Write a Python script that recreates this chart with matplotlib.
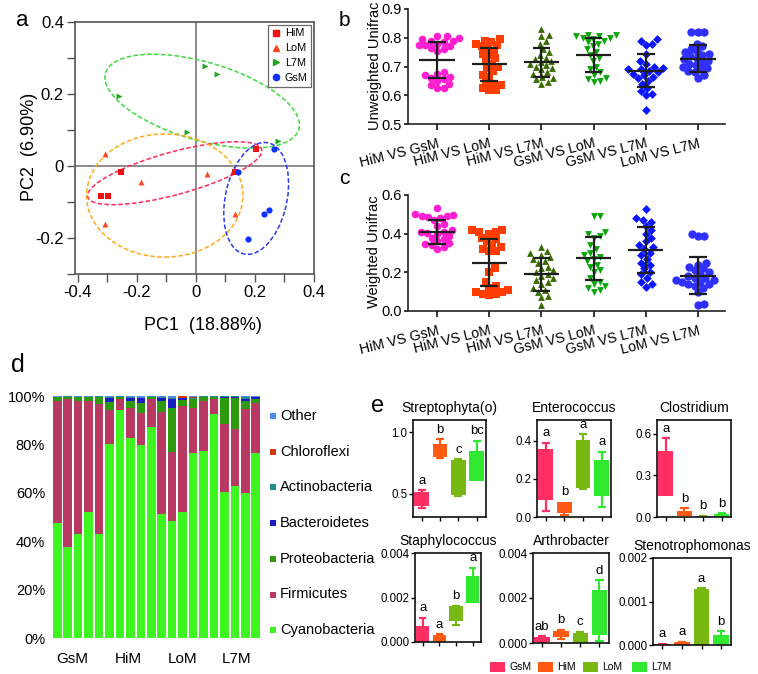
import numpy as np
import matplotlib
matplotlib.use('Agg')
import matplotlib.pyplot as plt
from matplotlib.patches import Ellipse, Rectangle
from matplotlib.lines import Line2D
from matplotlib.transforms import ScaledTranslation

plt.rcParams['font.family'] = ['Liberation Sans', 'DejaVu Sans']

# ---------------- data: panel a (PCoA) ----------------
a_him_x = [-0.322, -0.297, -0.253, 0.131, 0.203]
a_him_y = [-0.084, -0.084, -0.018, -0.017, 0.047]
a_lom_x = [-0.310, -0.186, 0.039, 0.131, -0.309]
a_lom_y = [0.034, -0.045, -0.021, -0.132, -0.161]
a_l7m_x = [-0.261, -0.031, 0.030, 0.072, 0.278]
a_l7m_y = [0.195, 0.094, 0.277, 0.256, 0.070]
a_gsm_x = [0.141, 0.263, 0.231, 0.247, 0.178]
a_gsm_y = [-0.017, 0.048, -0.133, -0.123, -0.203]
# ellipses: centre x, centre y, width, height, angle
ell_cx = [0.021, -0.072, -0.106, 0.204]
ell_cy = [0.180, -0.020, -0.082, -0.090]
ell_w = [0.674, 0.604, 0.530, 0.320]
ell_h = [0.220, 0.120, 0.342, 0.206]
ell_ang = [-12.7, 12.4, 0.0, 71.8]
ell_col = ['#3ddc3d', '#ff2a55', '#ffaa1a', '#2a3aee']

# ---------------- data: panels b, c ----------------
comparisons = ['HiM VS GsM', 'HiM VS LoM', 'HiM VS L7M', 'GsM VS LoM', 'GsM VS L7M', 'LoM VS L7M']
unw_him_gsm = [0.805, 0.805, 0.80, 0.795, 0.79, 0.79, 0.785, 0.78, 0.775, 0.775, 0.77, 0.765, 0.76,
               0.755, 0.68, 0.675, 0.67, 0.665, 0.66, 0.655, 0.65, 0.64, 0.635, 0.625, 0.625]
unw_him_lom = [0.795, 0.79, 0.785, 0.78, 0.775, 0.77, 0.765, 0.755, 0.745, 0.74, 0.73, 0.72, 0.71,
               0.70, 0.695, 0.685, 0.67, 0.665, 0.645, 0.64, 0.635, 0.625, 0.62, 0.62]
unw_him_l7m = [0.83, 0.81, 0.805, 0.79, 0.78, 0.76, 0.75, 0.74, 0.73, 0.725, 0.72, 0.715, 0.71,
               0.705, 0.70, 0.695, 0.69, 0.68, 0.675, 0.665, 0.66, 0.655, 0.645, 0.64]
unw_gsm_lom = [0.81, 0.81, 0.805, 0.805, 0.80, 0.80, 0.795, 0.79, 0.785, 0.78, 0.77, 0.76, 0.75,
               0.74, 0.73, 0.72, 0.70, 0.69, 0.68, 0.67, 0.66, 0.655, 0.65, 0.645]
unw_gsm_l7m = [0.795, 0.79, 0.78, 0.775, 0.745, 0.72, 0.71, 0.70, 0.695, 0.69, 0.69, 0.685, 0.68,
               0.675, 0.67, 0.665, 0.66, 0.65, 0.64, 0.625, 0.615, 0.605, 0.60, 0.55]
unw_lom_l7m = [0.82, 0.82, 0.82, 0.78, 0.77, 0.76, 0.755, 0.75, 0.745, 0.74, 0.735, 0.73, 0.725,
               0.72, 0.715, 0.71, 0.705, 0.70, 0.695, 0.69, 0.685, 0.68, 0.67, 0.66]
unw_mean = [0.722, 0.708, 0.714, 0.740, 0.686, 0.727]
unw_sd = [0.062, 0.057, 0.052, 0.058, 0.059, 0.047]

w_him_gsm = [0.535, 0.50, 0.495, 0.49, 0.49, 0.485, 0.48, 0.47, 0.45, 0.44, 0.42, 0.41, 0.41,
             0.405, 0.40, 0.39, 0.38, 0.37, 0.36, 0.35, 0.345, 0.34, 0.33, 0.32]
w_him_lom = [0.42, 0.42, 0.41, 0.41, 0.40, 0.38, 0.37, 0.36, 0.34, 0.33, 0.32, 0.31, 0.31,
             0.22, 0.20, 0.15, 0.13, 0.12, 0.11, 0.10, 0.10, 0.09, 0.09, 0.085]
w_him_l7m = [0.33, 0.31, 0.30, 0.29, 0.28, 0.27, 0.26, 0.25, 0.23, 0.22, 0.21, 0.20, 0.19,
             0.18, 0.17, 0.16, 0.15, 0.14, 0.12, 0.11, 0.10, 0.08, 0.07, 0.03]
w_gsm_lom = [0.49, 0.49, 0.41, 0.40, 0.39, 0.38, 0.34, 0.32, 0.30, 0.29, 0.28, 0.27, 0.26,
             0.24, 0.23, 0.21, 0.20, 0.17, 0.15, 0.14, 0.13, 0.12, 0.11, 0.10]
w_gsm_l7m = [0.53, 0.48, 0.47, 0.46, 0.44, 0.42, 0.40, 0.38, 0.36, 0.34, 0.33, 0.32, 0.30,
             0.29, 0.27, 0.25, 0.24, 0.22, 0.20, 0.19, 0.17, 0.15, 0.14, 0.125]
w_lom_l7m = [0.40, 0.39, 0.39, 0.25, 0.24, 0.23, 0.22, 0.21, 0.20, 0.19, 0.18, 0.17, 0.17,
             0.16, 0.16, 0.15, 0.15, 0.14, 0.14, 0.13, 0.12, 0.10, 0.035, 0.03]
w_mean = [0.410, 0.250, 0.190, 0.272, 0.314, 0.183]
w_sd = [0.061, 0.120, 0.086, 0.113, 0.119, 0.095]

# ---------------- data: panel d (relative abundance, %) ----------------
d_groups = ['GsM', 'HiM', 'LoM', 'L7M']
cyanobacteria = [47.7, 37.8, 42.9, 51.9, 43.1, 80.2, 94.2, 82.8, 79.9, 87.1,
                 51.2, 48.4, 52.0, 76.6, 77.4, 92.4, 60.2, 62.9, 59.8, 76.6]
firmicutes = [50.2, 61.0, 55.0, 46.0, 53.6, 14.0, 4.4, 12.4, 12.9, 11.5,
              42.3, 28.4, 44.0, 18.6, 20.7, 6.2, 28.1, 23.5, 34.7, 20.4]
proteobacteria = [1.5, 0.9, 1.5, 1.5, 3.0, 3.5, 1.1, 2.9, 4.4, 1.1,
                  4.3, 18.4, 2.3, 3.4, 1.6, 1.1, 10.7, 12.9, 3.6, 1.6]
bacteroidetes = [0.0, 0.0, 0.0, 0.0, 0.0, 1.3, 0.0, 1.2, 1.8, 0.0,
                 1.4, 3.6, 0.8, 0.3, 0.0, 0.0, 0.6, 0.2, 0.7, 0.9]
actinobacteria = [0.3, 0.1, 0.3, 0.3, 0.1, 0.4, 0.1, 0.3, 0.3, 0.1,
                  0.4, 0.3, 0.2, 0.3, 0.1, 0.1, 0.3, 0.4, 0.8, 0.2]
chloroflexi = [0.0, 0.0, 0.0, 0.0, 0.0, 0.0, 0.0, 0.0, 0.0, 0.0,
               0.0, 0.1, 0.5, 0.5, 0.0, 0.0, 0.0, 0.0, 0.0, 0.0]
other = [0.3, 0.2, 0.3, 0.3, 0.2, 0.6, 0.2, 0.4, 0.7, 0.2,
         0.4, 0.8, 0.2, 0.3, 0.2, 0.2, 0.1, 0.1, 0.4, 0.3]
d_tick_pos = [1.4, 6.8, 12.0, 17.2]

# ---------------- data: panel e (box: q1,q3; whiskers lo,hi) ----------------
e_taxa = ['Streptophyta(o)', 'Enterococcus', 'Clostridium',
          'Staphylococcus', 'Arthrobacter', 'Stenotrophomonas']
e_groups = ['GsM', 'HiM', 'LoM', 'L7M']
e_q1 = [[0.403, 0.797, 0.490, 0.600],
        [0.088, 0.020, 0.155, 0.110],
        [0.148, 0.010, 0.000, 0.000],
        [0.0, 0.0, 0.00094, 0.00177],
        [0.00005, 0.00025, 0.00002, 0.00034],
        [0.0, 0.0, 0.0, 0.00002]]
e_q3 = [[0.511, 0.905, 0.776, 0.851],
        [0.357, 0.080, 0.405, 0.298],
        [0.479, 0.045, 0.006, 0.020],
        [0.00070, 0.00033, 0.00160, 0.00297],
        [0.00027, 0.00055, 0.00045, 0.00234],
        [0.00002, 0.00006, 0.00128, 0.00022]]
e_lo = [[0.384, 0.790, 0.482, 0.600],
        [0.030, 0.013, 0.146, 0.052],
        [0.148, 0.010, 0.000, 0.000],
        [0.0, 0.0, 0.00078, 0.00177],
        [0.00003, 0.00020, 0.00001, 0.00010],
        [0.0, 0.0, 0.0, 0.00001]]
e_hi = [[0.527, 0.943, 0.781, 0.930],
        [0.390, 0.080, 0.436, 0.343],
        [0.569, 0.062, 0.008, 0.026],
        [0.00110, 0.00035, 0.00163, 0.00333],
        [0.00030, 0.00060, 0.00050, 0.00280],
        [0.00003, 0.00007, 0.00130, 0.00032]]
e_letters = [['a', 'b', 'c', 'bc'], ['a', 'b', 'a', 'a'], ['a', 'b', 'b', 'b'],
             ['a', 'a', 'b', 'a'], ['ab', 'b', 'c', 'd'], ['a', 'a', 'a', 'b']]
e_ylim = [(0.31, 1.1), (0.0, 0.51), (0.0, 0.7), (0.0, 0.004), (0.0, 0.004), (0.0, 0.002)]
e_yticks = [[0.5, 1.0], [0.0, 0.2, 0.4], [0.0, 0.3, 0.6],
            [0.0, 0.002, 0.004], [0.0, 0.002, 0.004], [0.0, 0.001, 0.002]]
e_yticklabels = [['0.5', '1.0'], ['0.0', '0.2', '0.4'], ['0.0', '0.3', '0.6'],
                 ['0.000', '0.002', '0.004'], ['0.000', '0.002', '0.004'], ['0.000', '0.001', '0.002']]

# ---------------- figure ----------------
W, H = 758, 674
fig = plt.figure(figsize=(W / 100, H / 100), dpi=100)


def rect(x0, y0, x1, y1):
    return [x0 / W, 1 - y1 / H, (x1 - x0) / W, (y1 - y0) / H]


def fx(x):
    return x / W


def fy(y):
    return 1 - y / H


# ======== panel a ========
ax = fig.add_axes(rect(75, 22, 314, 274))
ax.set_xlim(-0.41, 0.4)
ax.set_ylim(-0.3, 0.4)
ax.axhline(0, color='#6e6e6e', lw=1.1, zorder=1)
ax.axvline(0, color='#6e6e6e', lw=1.1, zorder=1)
for cx, cy, w, h, ang, col in zip(ell_cx, ell_cy, ell_w, ell_h, ell_ang, ell_col):
    ax.add_patch(Ellipse((cx, cy), w, h, angle=ang, fill=False, ec=col, lw=1.1,
                         ls=(0, (3, 1.5)), zorder=2))
ax.scatter(a_him_x, a_him_y, marker='s', s=20, c='#ee1111', lw=0, zorder=3)
ax.scatter(a_lom_x, a_lom_y, marker='^', s=18, c='#ff4422', lw=0, zorder=3)
ax.scatter(a_l7m_x, a_l7m_y, marker='>', s=18, c='#1fa81f', lw=0, zorder=3)
ax.scatter(a_gsm_x, a_gsm_y, marker='o', s=20, c='#1030ff', lw=0, zorder=3)
ax.set_xticks([-0.4, -0.2, 0, 0.2, 0.4])
ax.set_xticklabels(['-0.4', '-0.2', '0', '0.2', '0.4'])
ax.set_xticks([-0.3, -0.1, 0.1, 0.3], minor=True)
ax.set_yticks([-0.2, 0, 0.2, 0.4])
ax.set_yticklabels(['-0.2', '0', '0.2', '0.4'])
ax.set_yticks([-0.3, -0.1, 0.1, 0.3], minor=True)
ax.tick_params(which='both', direction='out', length=6, width=1.0, color='#555555',
               labelsize=12, pad=2)
for sp in ax.spines.values():
    sp.set_color('#555555')
    sp.set_linewidth(1.2)
handles = [Line2D([], [], marker='s', ls='', color='#ee1111', ms=4.5),
           Line2D([], [], marker='^', ls='', color='#ff4422', ms=4.5),
           Line2D([], [], marker='>', ls='', color='#1fa81f', ms=4.5),
           Line2D([], [], marker='o', ls='', color='#1030ff', ms=4.5)]
leg = ax.legend(handles, ['HiM', 'LoM', 'L7M', 'GsM'], loc='upper right', fontsize=7.8,
                frameon=True, fancybox=False, edgecolor='#444444', borderpad=0.35,
                labelspacing=0.45, handlelength=0.8, handletextpad=0.4, borderaxespad=0.25)
leg.get_frame().set_linewidth(0.9)
fig.text(fx(30), fy(147), 'PC2  (6.90%)', rotation=90, ha='center', va='center', fontsize=13)
fig.text(fx(203), fy(326), 'PC1  (18.88%)', ha='center', va='center', fontsize=13)
fig.text(fx(22), fy(20), 'a', ha='center', va='center', fontsize=16)


# ======== panels b, c ========
def swarm(ax, xc, vals, d_px):
    vals = np.asarray(vals, float)
    ypx = ax.transData.transform(np.column_stack([np.full(len(vals), xc), vals]))[:, 1]
    ppu = ax.transData.transform([[1, 0]])[0, 0] - ax.transData.transform([[0, 0]])[0, 0]
    order = np.argsort(ypx)
    placed = []
    offs = np.zeros(len(vals))
    for i in order:
        y = ypx[i]
        cands = [0.0]
        for px, py in placed:
            dy = y - py
            if abs(dy) < d_px:
                dx = np.sqrt(d_px ** 2 - dy ** 2)
                cands += [px + dx, px - dx]
        cands.sort(key=abs)
        chosen = cands[0]
        for c in cands:
            if all((c - px) ** 2 + (y - py) ** 2 >= d_px ** 2 - 1e-6 for px, py in placed):
                chosen = c
                break
        placed.append((chosen, y))
        offs[i] = chosen
    return xc + offs / ppu


bc_markers = ['o', 's', '^', 'v', 'D', 'o']
bc_sizes = [30, 28, 24, 24, 20, 36]
bc_colors = ['#ff1fd0', '#ff3d00', '#3a6b00', '#0aa50a', '#0a14ff', '#3030ff']


def dot_panel(box, series, means, sds, ylim, yticks, yticklabels, ylabel, ylab_xy):
    ax = fig.add_axes(rect(*box))
    ax.set_xlim(-0.56, 5.52)
    ax.set_ylim(*ylim)
    for i, vals in enumerate(series):
        xs = swarm(ax, i, vals, 6.6)
        ax.scatter(xs, vals, marker=bc_markers[i], s=bc_sizes[i], c=bc_colors[i], lw=0, zorder=2)
        m, s = means[i], sds[i]
        ax.hlines(m, i - 0.34, i + 0.34, color='#1e1e1e', lw=1.6, zorder=4)
        ax.vlines(i, m - s, m + s, color='#1e1e1e', lw=1.6, zorder=4)
        ax.hlines([m - s, m + s], i - 0.17, i + 0.17, color='#1e1e1e', lw=1.6, zorder=4)
    ax.set_yticks(yticks)
    ax.set_yticklabels(yticklabels)
    ax.set_xticks(range(len(series)))
    ax.set_xticklabels(comparisons, rotation=14, ha='right', va='top', rotation_mode='anchor')
    for lab in ax.get_xticklabels():
        lab.set_transform(lab.get_transform() + ScaledTranslation(0.15, 0, fig.dpi_scale_trans))
    ax.tick_params(axis='y', direction='out', length=3, width=1.1, labelsize=10.5, pad=1.5)
    ax.tick_params(axis='x', direction='out', length=4, width=1.1, labelsize=10.2, pad=5)
    for k in ['top', 'right']:
        ax.spines[k].set_visible(False)
    for k in ['left', 'bottom']:
        ax.spines[k].set_linewidth(1.2)
        ax.spines[k].set_color('#222222')
    fig.text(fx(ylab_xy[0]), fy(ylab_xy[1]), ylabel, rotation=90, ha='center', va='center',
             fontsize=10.5)
    return ax


dot_panel((408, 9, 725, 124),
          [unw_him_gsm, unw_him_lom, unw_him_l7m, unw_gsm_lom, unw_gsm_l7m, unw_lom_l7m],
          unw_mean, unw_sd, (0.5, 0.9), [0.5, 0.6, 0.7, 0.8, 0.9],
          ['0.5', '0.6', '0.7', '0.8', '0.9'], 'Unweighted Unifrac', (375, 66))
dot_panel((408, 195, 725, 311),
          [w_him_gsm, w_him_lom, w_him_l7m, w_gsm_lom, w_gsm_l7m, w_lom_l7m],
          w_mean, w_sd, (0.0, 0.6), [0.0, 0.2, 0.4, 0.6],
          ['0.0', '0.2', '0.4', '0.6'], 'Weighted Unifrac', (374, 252))
fig.text(fx(344), fy(20), 'b', ha='center', va='center', fontsize=15)
fig.text(fx(344), fy(178), 'c', ha='center', va='center', fontsize=15)

# ======== panel d ========
ax = fig.add_axes(rect(52, 396, 261, 638))
layers = [cyanobacteria, firmicutes, proteobacteria, bacteroidetes, actinobacteria, chloroflexi, other]
layer_names = ['Cyanobacteria', 'Firmicutes', 'Proteobacteria', 'Bacteroidetes',
               'Actinobacteria', 'Chloroflexi', 'Other']
layer_cols = ['#3ef51f', '#b83a62', '#2e9a0e', '#1c1cc0', '#1f8f8f', '#d03c10', '#4a8de8']
xpos = np.arange(len(cyanobacteria))
bottom = np.zeros(len(xpos))
for vals, col in zip(layers, layer_cols):
    ax.bar(xpos, vals, bottom=bottom, width=0.82, color=col, lw=0)
    bottom += np.asarray(vals)
ax.set_xlim(-0.5, len(xpos) - 0.5)
ax.set_ylim(0, 100)
ax.set_yticks([0, 20, 40, 60, 80, 100])
ax.set_yticklabels(['0%', '20%', '40%', '60%', '80%', '100%'])
ax.set_xticks(d_tick_pos)
ax.set_xticklabels(d_groups)
ax.tick_params(axis='y', length=0, labelsize=10.5, pad=5)
ax.tick_params(axis='x', length=0, labelsize=11, pad=10)
for sp in ax.spines.values():
    sp.set_visible(False)
for i, (name, col) in enumerate(zip(layer_names[::-1], layer_cols[::-1])):
    yy = 416 + i * 35.7
    fig.add_artist(Rectangle((fx(270), fy(yy + 3)), 6 / W, 6 / H, transform=fig.transFigure,
                             color=col, lw=0))
    fig.text(fx(280), fy(yy), name, ha='left', va='center', fontsize=10.5)
fig.text(fx(18), fy(365), 'd', ha='center', va='center', fontsize=18)

# ======== panel e ========
e_cols = ['#ff2e63', '#ff5a14', '#78b812', '#2fe82f']
e_boxes = [(413, 420, 486, 517), (537, 420, 611, 517), (657, 420, 731, 517),
           (415, 553, 481, 642), (533, 553, 609, 643), (653, 558, 731, 645)]
for k in range(6):
    ax = fig.add_axes(rect(*e_boxes[k]))
    ax.set_xlim(-0.47, 3.5)
    ax.set_ylim(*e_ylim[k])
    for g in range(4):
        q1, q3, lo, hi = e_q1[k][g], e_q3[k][g], e_lo[k][g], e_hi[k][g]
        col = e_cols[g]
        ax.bar(g, q3 - q1, bottom=q1, width=0.8, color=col, lw=0, zorder=2)
        if hi > q3:
            ax.vlines(g, q3, hi, color=col, lw=1.6, zorder=2)
            ax.hlines(hi, g - 0.22, g + 0.22, color=col, lw=1.6, zorder=2)
        if lo < q1:
            ax.vlines(g, lo, q1, color=col, lw=1.6, zorder=2)
            ax.hlines(lo, g - 0.22, g + 0.22, color=col, lw=1.6, zorder=2)
        ax.annotate(e_letters[k][g], (g, max(hi, q3)), xytext=(0, 2.5),
                    textcoords='offset points', ha='center', va='bottom', fontsize=9.5)
    ax.set_yticks(e_yticks[k])
    ax.set_yticklabels(e_yticklabels[k])
    ax.set_xticks(range(4))
    ax.set_xticklabels([])
    ax.tick_params(direction='out', length=3, width=1.0, labelsize=8.3, pad=1)
    for sp in ax.spines.values():
        sp.set_linewidth(1.2)
        sp.set_color('#111111')
    ax.set_title(e_taxa[k], fontsize=10, pad=6)

e_leg_x = [490, 538, 583, 632]
for name, col, x in zip(e_groups, e_cols, e_leg_x):
    fig.add_artist(Rectangle((fx(x), fy(672)), 15 / W, 10 / H, transform=fig.transFigure,
                             color=col, lw=0))
    fig.text(fx(x + 19), fy(667), name, ha='left', va='center', fontsize=7.5)
fig.text(fx(378), fy(406), 'e', ha='center', va='center', fontsize=17)

fig.savefig('out.png', dpi=100)
